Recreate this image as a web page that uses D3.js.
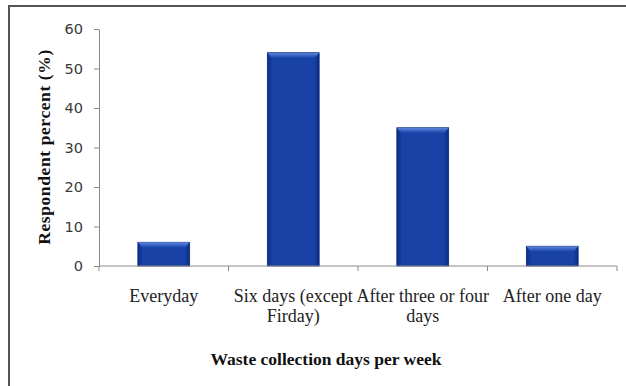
<!DOCTYPE html>
<html>
<head>
<meta charset="utf-8">
<script src="https://cdn.jsdelivr.net/npm/d3@7"></script>
<style>
  body { margin: 0; background: #fff; }
  svg { display: block; }
</style>
</head>
<body>
<div id="viz"></div>
<script>
// data
const categories = ["Everyday", "Six days (except Firday)", "After three or four days", "After one day"];
const percents = [6, 54, 35, 5];
const yTicks = [0, 10, 20, 30, 40, 50, 60];

const W = 626, H = 386;
const margin = {top: 29, right: 9, bottom: 120, left: 99};
const plotW = W - margin.left - margin.right,
      plotH = H - margin.top - margin.bottom;

const svg = d3.select("#viz")
  .append("svg")
    .attr("width", W)
    .attr("height", H);

// gradients for the bevelled bars
const defs = svg.append("defs");
const sideGrad = defs.append("linearGradient").attr("id", "barSide")
  .attr("x1", 0).attr("x2", 1).attr("y1", 0).attr("y2", 0);
sideGrad.append("stop").attr("offset", "0%").attr("stop-color", "#0c2c86");
sideGrad.append("stop").attr("offset", "10%").attr("stop-color", "#1842a6");
sideGrad.append("stop").attr("offset", "90%").attr("stop-color", "#1842a6");
sideGrad.append("stop").attr("offset", "100%").attr("stop-color", "#0c2c86");
const topGrad = defs.append("linearGradient").attr("id", "barTop")
  .attr("x1", 0).attr("x2", 0).attr("y1", 0).attr("y2", 1);
topGrad.append("stop").attr("offset", "0%").attr("stop-color", "#5d86dc");
topGrad.append("stop").attr("offset", "100%").attr("stop-color", "#1d49b0");

// outer frame
svg.append("rect")
  .attr("x", 9).attr("y", 6)
  .attr("width", W + 10).attr("height", H + 10)
  .attr("fill", "none")
  .attr("stroke", "#555")
  .attr("stroke-width", 2);

const g = svg.append("g")
  .attr("transform", `translate(${margin.left},${margin.top})`);

const x = d3.scaleBand()
  .domain(categories)
  .range([0, plotW])
  .padding(0);

const y = d3.scaleLinear()
  .domain([0, 60])
  .range([plotH, 0]);

const barW = x.bandwidth() * 0.4;

// bars
const bars = g.selectAll(".bar")
  .data(categories)
  .join("g")
    .attr("class", "bar");

bars.append("rect")
  .attr("x", d => x(d) + (x.bandwidth() - barW) / 2)
  .attr("y", (d, i) => y(percents[i]))
  .attr("width", barW)
  .attr("height", (d, i) => y(0) - y(percents[i]))
  .attr("fill", "url(#barSide)")
  .attr("stroke", "#0a2778")
  .attr("stroke-width", 0.8);

bars.append("path")
  .attr("d", (d, i) => {
    const x0 = x(d) + (x.bandwidth() - barW) / 2, y0 = y(percents[i]);
    return `M${x0},${y0}h${barW}l-4,5h${-(barW - 8)}z`;
  })
  .attr("fill", "url(#barTop)");

// y axis
const yAxis = g.append("g")
  .call(d3.axisLeft(y).tickValues(yTicks).tickSize(5).tickPadding(11).tickSizeOuter(0));
yAxis.select(".domain").attr("stroke", "#8a8a8a");
yAxis.selectAll(".tick line").attr("stroke", "#8a8a8a");
yAxis.selectAll(".tick text")
  .attr("font-family", "'DejaVu Sans', sans-serif")
  .attr("font-size", 14.5)
  .attr("fill", "#3a3a3a");

// x axis, ticks between categories
const xAxis = g.append("g")
  .attr("transform", `translate(0,${plotH})`);
xAxis.append("line")
  .attr("x1", 0).attr("x2", plotW)
  .attr("stroke", "#8a8a8a");
xAxis.selectAll(".sep")
  .data(categories.concat([null]))
  .join("line")
    .attr("class", "sep")
    .attr("x1", (d, i) => i < categories.length ? x(d) : plotW)
    .attr("x2", (d, i) => i < categories.length ? x(d) : plotW)
    .attr("y1", 0).attr("y2", 5)
    .attr("stroke", "#8a8a8a");

const labels = xAxis.selectAll(".cat")
  .data(categories)
  .join("text")
    .attr("class", "cat")
    .attr("x", d => x(d) + x.bandwidth() / 2)
    .attr("y", 36)
    .attr("text-anchor", "middle")
    .attr("font-family", "'Liberation Serif', 'Times New Roman', serif")
    .attr("font-size", 18)
    .attr("fill", "#222")
    .text(d => d);

// wrap long labels on the band width
labels.each(function(d) {
  const t = d3.select(this);
  const words = d.split(" ");
  const cx = t.attr("x");
  t.text(null);
  let line = [];
  let tspan = t.append("tspan").attr("x", cx).attr("dy", 0);
  words.forEach(w => {
    line.push(w);
    tspan.text(line.join(" "));
    if (tspan.node().getComputedTextLength() > x.bandwidth() + 4 && line.length > 1) {
      line.pop();
      tspan.text(line.join(" "));
      line = [w];
      tspan = t.append("tspan").attr("x", cx).attr("dy", 20).text(w);
    }
  });
});

// axis titles
svg.append("text")
  .attr("x", 326)
  .attr("y", 365)
  .attr("text-anchor", "middle")
  .attr("font-family", "'Liberation Serif', 'Times New Roman', serif")
  .attr("font-weight", "bold")
  .attr("font-size", 17.5)
  .attr("fill", "#111")
  .text("Waste collection days per week");

svg.append("text")
  .attr("transform", "translate(50,147) rotate(-90)")
  .attr("text-anchor", "middle")
  .attr("font-family", "'Liberation Serif', 'Times New Roman', serif")
  .attr("font-weight", "bold")
  .attr("font-size", 17.5)
  .attr("letter-spacing", 0.6)
  .attr("fill", "#111")
  .text("Respondent percent (%)");
</script>
</body>
</html>
